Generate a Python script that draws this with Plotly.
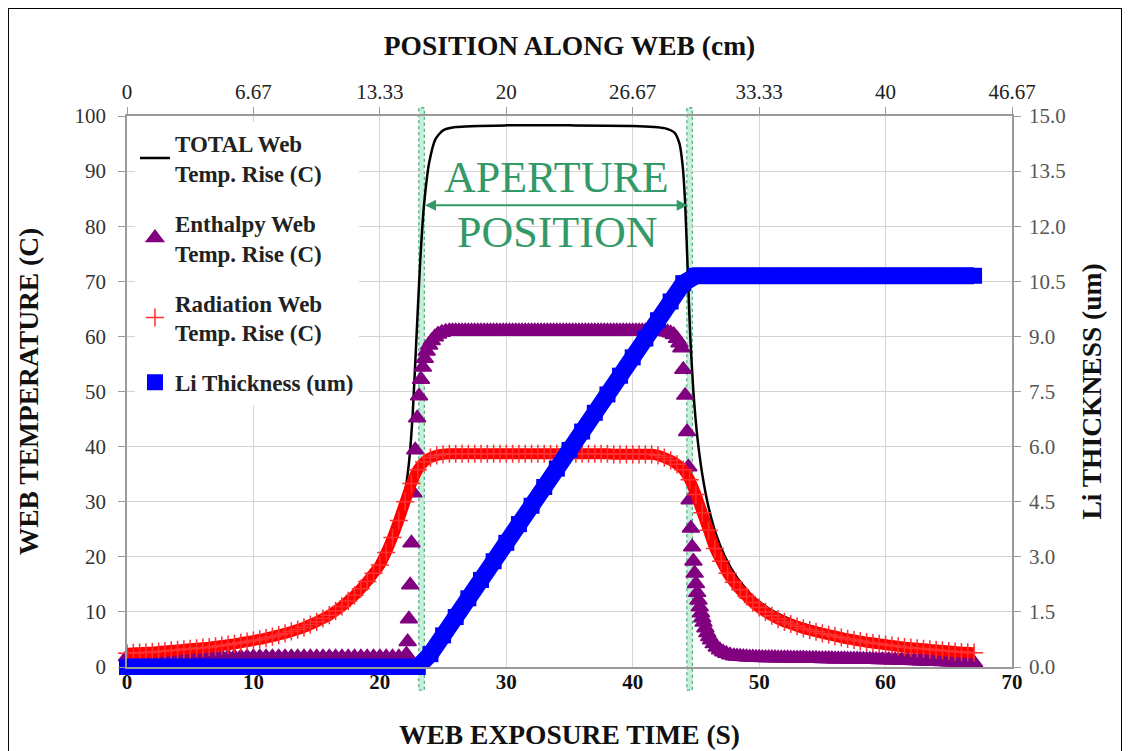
import plotly.graph_objects as go

# ---------------- data ----------------
TIME_TICKS = [0, 10, 20, 30, 40, 50, 60, 70]
TEMP_TICKS = [0, 10, 20, 30, 40, 50, 60, 70, 80, 90, 100]
THICK_TICKS = [0, 1.5, 3, 4.5, 6, 7.5, 9, 10.5, 12, 13.5, 15]
POS_TICKS = [0, 6.667, 13.333, 20, 26.667, 33.333, 40, 46.667]
POS_LABELS = ["0", "6.67", "13.33", "20", "26.67", "33.33", "40", "46.67"]

APERTURE_START = 23.3
APERTURE_END = 44.5

# TOTAL web temperature rise (line)
TOTAL_T = [0, 4, 8, 12, 15, 17, 18.5, 19.5, 20.5, 21.3,
           21.9, 22.3, 22.6, 22.9, 23.2, 23.5, 23.9, 24.4, 25.0, 26.0,
           30, 35, 40, 42.5, 43.3, 43.7, 43.95, 44.15, 44.35, 44.55,
           44.8, 45.1, 45.5, 46.0, 46.6, 47.3, 48.2, 49.5, 51, 53,
           56, 60, 64, 67]
TOTAL_Y = [2.9, 3.5, 4.4, 6.2, 8.6, 11.4, 14.6, 17.4, 21.3, 25.5,
           30.5, 37, 46, 60, 74, 84, 91.5, 95.8, 97.4, 98.0,
           98.3, 98.3, 98.2, 97.8, 97.0, 95.0, 91, 84, 72, 60,
           50, 42, 35, 29, 24, 20.0, 16.4, 12.8, 10.3, 8.2,
           6.3, 4.5, 3.5, 2.9]

# Enthalpy web temperature rise (triangles)
ENTH_T = [
    0, 0.5, 1, 1.5, 2, 2.5, 3, 3.5, 4, 4.5,
    5, 5.5, 6, 6.5, 7, 7.5, 8, 8.5, 9, 9.5,
    10, 10.5, 11, 11.5, 12, 12.5, 13, 13.5, 14, 14.5,
    15, 15.5, 16, 16.5, 17, 17.5, 18, 18.5, 19, 19.5,
    20, 20.5, 21, 21.5, 22,
    22.1, 22.2, 22.3, 22.4, 22.5, 22.65, 22.8, 22.95, 23.1, 23.25,
    23.4, 23.55, 23.7, 23.9, 24.1, 24.35, 24.6, 24.9, 25.2, 25.5,
    25.75, 26, 26.25, 26.5, 26.75, 27, 27.25, 27.5, 27.75, 28,
    28.25, 28.5, 28.75, 29, 29.25, 29.5, 29.75, 30, 30.25, 30.5,
    30.75, 31, 31.25, 31.5, 31.75, 32, 32.25, 32.5, 32.75, 33,
    33.25, 33.5, 33.75, 34, 34.25, 34.5, 34.75, 35, 35.25, 35.5,
    35.75, 36, 36.25, 36.5, 36.75, 37, 37.25, 37.5, 37.75, 38,
    38.25, 38.5, 38.75, 39, 39.25, 39.5, 39.75, 40, 40.25, 40.5,
    40.75, 41, 41.25, 41.5, 41.75, 42, 42.25, 42.5, 42.75, 43,
    43.25, 43.5, 43.7, 43.85, 44.0, 44.15, 44.3, 44.4, 44.5, 44.6,
    44.7, 44.8, 44.9, 45.0, 45.1, 45.2, 45.3, 45.4, 45.5, 45.6,
    45.75, 45.9, 46.05, 46.2, 46.4, 46.65, 46.9, 47.15, 47.4, 47.7,
    48.0,
    48.25, 48.5, 48.75, 49, 49.25, 49.5, 49.75, 50, 50.25, 50.5,
    50.75, 51, 51.25, 51.5, 51.75, 52, 52.25, 52.5, 52.75, 53,
    53.25, 53.5, 53.75, 54, 54.25, 54.5, 54.75, 55, 55.25, 55.5,
    55.75, 56, 56.25, 56.5, 56.75, 57, 57.25, 57.5, 57.75, 58,
    58.25, 58.5, 58.75, 59, 59.25, 59.5, 59.75, 60, 60.25, 60.5,
    60.75, 61, 61.25, 61.5, 61.75, 62, 62.25, 62.5, 62.75, 63,
    63.25, 63.5, 63.75, 64, 64.25, 64.5, 64.75, 65, 65.25, 65.5,
    65.75, 66, 66.25, 66.5, 66.75, 67,
]
ENTH_Y = [
    1.8, 1.8, 1.8, 1.8, 1.8, 1.8, 1.8, 1.8, 1.8, 1.8,
    1.8, 1.8, 1.8, 1.8, 1.8, 1.8, 1.8, 1.8, 1.8, 1.8,
    1.8, 1.8, 1.8, 1.8, 1.8, 1.8, 1.8, 1.8, 1.8, 1.8,
    1.8, 1.8, 1.8, 1.8, 1.8, 1.8, 1.8, 1.8, 1.8, 1.8,
    1.8, 1.8, 1.8, 1.8, 1.8,
    2.3, 4.6, 8.7, 14.9, 22.5, 31.6, 39.4, 45.2, 49.2, 52.2,
    54.4, 56.0, 57.3, 58.4, 59.2, 59.9, 60.4, 60.7, 60.9, 61.0,
    61.0, 61.0, 61.0, 61.0, 61.0, 61.0, 61.0, 61.0, 61.0, 61.0,
    61.0, 61.0, 61.0, 61.0, 61.0, 61.0, 61.0, 61.0, 61.0, 61.0,
    61.0, 61.0, 61.0, 61.0, 61.0, 61.0, 61.0, 61.0, 61.0, 61.0,
    61.0, 61.0, 61.0, 61.0, 61.0, 61.0, 61.0, 61.0, 61.0, 61.0,
    61.0, 61.0, 61.0, 61.0, 61.0, 61.0, 61.0, 61.0, 61.0, 61.0,
    61.0, 61.0, 61.0, 61.0, 61.0, 61.0, 61.0, 61.0, 61.0, 61.0,
    61.0, 61.0, 61.0, 61.0, 61.0, 61.0, 60.95, 60.9, 60.8, 60.6,
    60.3, 59.6, 58.8, 57.9, 54.0, 49.3, 42.7, 36.3, 30.3, 25.2,
    21.8, 19.2, 17.0, 15.1, 13.5, 12.1, 10.9, 9.8, 8.9, 8.1,
    7.1, 6.2, 5.5, 4.9, 4.2, 3.6, 3.1, 2.7, 2.45, 2.2,
    2.0,
    1.95, 1.9, 1.85, 1.8, 1.78, 1.76, 1.74, 1.72, 1.7, 1.69,
    1.68, 1.67, 1.66, 1.65, 1.64, 1.63, 1.62, 1.61, 1.6, 1.59,
    1.58, 1.57, 1.56, 1.55, 1.54, 1.53, 1.52, 1.51, 1.5, 1.49,
    1.48, 1.47, 1.46, 1.45, 1.44, 1.43, 1.42, 1.41, 1.4, 1.39,
    1.38, 1.37, 1.36, 1.35, 1.34, 1.33, 1.32, 1.31, 1.3, 1.28,
    1.26, 1.24, 1.22, 1.2, 1.18, 1.16, 1.14, 1.12, 1.1, 1.08,
    1.06, 1.04, 1.02, 1.0, 0.98, 0.96, 0.94, 0.92, 0.9, 0.88,
    0.86, 0.84, 0.82, 0.8, 0.78, 0.76,
]

# Radiation web temperature rise (+ markers)
RAD_T = [
    0, 0.5, 1, 1.5, 2, 2.5, 3, 3.5, 4, 4.5,
    5, 5.5, 6, 6.5, 7, 7.5, 8, 8.5, 9, 9.5,
    10, 10.5, 11, 11.5, 12, 12.5, 13, 13.5, 14, 14.5,
    15, 15.5, 16, 16.5, 17, 17.5, 18, 18.5, 19, 19.5,
    20, 20.5, 21, 21.5, 22, 22.5, 23, 23.5, 24, 24.5,
    25, 25.5, 26, 26.5, 27, 27.5, 28, 28.5, 29, 29.5,
    30, 30.5, 31, 31.5, 32, 32.5, 33, 33.5, 34, 34.5,
    35, 35.5, 36, 36.5, 37, 37.5, 38, 38.5, 39, 39.5,
    40, 40.5, 41, 41.5, 42, 42.5, 43, 43.5, 44, 44.5,
    45, 45.5, 46, 46.5, 47, 47.5, 48, 48.5, 49, 49.5,
    50, 50.5, 51, 51.5, 52, 52.5, 53, 53.5, 54, 54.5,
    55, 55.5, 56, 56.5, 57, 57.5, 58, 58.5, 59, 59.5,
    60, 60.5, 61, 61.5, 62, 62.5, 63, 63.5, 64, 64.5,
    65, 65.5, 66, 66.5, 67,
]
RAD_Y = [
    2.5, 2.55, 2.6, 2.65, 2.7, 2.8, 2.9, 3.0, 3.1, 3.2,
    3.3, 3.4, 3.5, 3.6, 3.75, 3.9, 4.05, 4.2, 4.4, 4.6,
    4.8, 5.0, 5.25, 5.5, 5.8, 6.1, 6.45, 6.8, 7.2, 7.7,
    8.2, 8.8, 9.4, 10.2, 11.0, 12.0, 13.0, 14.2, 15.5, 17.0,
    18.5, 20.8, 23.5, 26.6, 30.0, 33.3, 35.8, 37.2, 38.0, 38.4,
    38.6, 38.7, 38.7, 38.7, 38.7, 38.7, 38.7, 38.7, 38.7, 38.7,
    38.7, 38.7, 38.7, 38.7, 38.7, 38.7, 38.7, 38.7, 38.7, 38.7,
    38.7, 38.7, 38.7, 38.7, 38.7, 38.7, 38.7, 38.6, 38.6, 38.6,
    38.6, 38.6, 38.6, 38.6, 38.4, 38.0, 37.5, 36.8, 35.8, 34.0,
    31.3, 28.0, 24.8, 21.5, 19.2, 17.0, 15.4, 14.0, 12.8, 11.7,
    10.8, 10.0, 9.3, 8.7, 8.2, 7.8, 7.4, 7.0, 6.7, 6.4,
    6.1, 5.85, 5.6, 5.35, 5.1, 4.9, 4.7, 4.5, 4.35, 4.2,
    4.05, 3.9, 3.75, 3.6, 3.5, 3.4, 3.3, 3.2, 3.1, 3.0,
    2.9, 2.8, 2.7, 2.65, 2.6,
]

# Li thickness (squares, right axis, um)
LI_T = [
    0, 1, 2, 3, 4, 5, 6, 7, 8, 9,
    10, 11, 12, 13, 14, 15, 16, 17, 18, 19,
    20, 21, 22, 23, 24, 25, 26, 27, 28, 29,
    30, 31, 32, 33, 34, 35, 36, 37, 38, 39,
    40, 41, 42, 43, 44, 45, 46, 47, 48, 49,
    50, 51, 52, 53, 54, 55, 56, 57, 58, 59,
    60, 61, 62, 63, 64, 65, 66, 67,
]
LI_Y = [
    0, 0, 0, 0, 0, 0, 0, 0, 0, 0,
    0, 0, 0, 0, 0, 0, 0, 0, 0, 0,
    0, 0, 0, 0, 0.35, 0.86, 1.36, 1.87, 2.37, 2.88,
    3.38, 3.89, 4.39, 4.90, 5.40, 5.91, 6.41, 6.92, 7.42, 7.93,
    8.43, 8.94, 9.44, 9.95, 10.45, 10.65, 10.65, 10.65, 10.65, 10.65,
    10.65, 10.65, 10.65, 10.65, 10.65, 10.65, 10.65, 10.65, 10.65, 10.65,
    10.65, 10.65, 10.65, 10.65, 10.65, 10.65, 10.65, 10.65,
]

# ---------------- styles ----------------
SERIF = "Liberation Serif"
BLACK = "#000000"
PURPLE = "#800080"
RED = "#ff0000"
BLUE = "#0000ff"
GREEN = "#339966"
GRID = "#d4d4d4"
AXIS = "#9a9a9a"
TITLE_SIZE = 27.5

fig = go.Figure()

fig.add_trace(go.Scatter(
    x=TOTAL_T, y=TOTAL_Y, mode="lines", name="TOTAL Web<br>Temp. Rise (C)",
    line=dict(color=BLACK, width=2.5, shape="spline", smoothing=0.6),
    legendgroup="total",
))
fig.add_trace(go.Scatter(
    x=ENTH_T, y=ENTH_Y, mode="markers", name="Enthalpy Web<br>Temp. Rise (C)",
    marker=dict(symbol="triangle-up", size=15, color=PURPLE,
                line=dict(color=PURPLE, width=1.5)),
    cliponaxis=False, legendgroup="enth",
))
fig.add_trace(go.Scatter(
    x=RAD_T, y=RAD_Y, mode="lines", showlegend=False,
    line=dict(color=RED, width=11, shape="spline", smoothing=0.5),
    legendgroup="rad", hoverinfo="skip",
))
fig.add_trace(go.Scatter(
    x=RAD_T, y=RAD_Y, mode="markers", name="Radiation Web<br>Temp. Rise (C)",
    marker=dict(symbol="cross-thin", size=13, color=RED,
                line=dict(color="#ff3030", width=1.5)),
    cliponaxis=False, legendgroup="rad",
))
fig.add_trace(go.Scatter(
    x=LI_T, y=LI_Y, mode="lines", yaxis="y2", showlegend=False,
    line=dict(color=BLUE, width=17),
    legendgroup="li", hoverinfo="skip",
))
fig.add_trace(go.Scatter(
    x=LI_T, y=LI_Y, mode="markers", yaxis="y2", name="Li Thickness (um)",
    marker=dict(symbol="square", size=16, color=BLUE),
    cliponaxis=False, legendgroup="li",
))
# the web-position scale (cm) shares the plot: registers the top axis
fig.add_trace(go.Scatter(
    x=POS_TICKS, y=[0] * len(POS_TICKS), xaxis="x2", mode="none",
    showlegend=False, hoverinfo="skip",
))

# aperture position markers
for xc in (APERTURE_START, APERTURE_END):
    fig.add_shape(type="rect", xref="x", yref="paper",
                  x0=xc - 0.22, x1=xc + 0.22, y0=-0.042, y1=1.015,
                  fillcolor="rgba(160,228,192,0.6)",
                  line=dict(color="#4fae82", width=1.3, dash="dot"),
                  layer="between")

fig.add_annotation(x=APERTURE_END - 0.15, y=83.8, ax=APERTURE_START + 0.15, ay=83.8,
                   xref="x", yref="y", axref="x", ayref="y", text="",
                   showarrow=True, arrowhead=2, arrowside="end+start",
                   arrowsize=1.1, arrowwidth=2, arrowcolor=GREEN)
fig.add_annotation(x=(APERTURE_START + APERTURE_END) / 2 + 0.1, y=88.8, text="APERTURE",
                   showarrow=False, xref="x", yref="y",
                   font=dict(family=SERIF, size=44, color=GREEN))
fig.add_annotation(x=(APERTURE_START + APERTURE_END) / 2 + 0.1, y=78.8, text="POSITION",
                   showarrow=False, xref="x", yref="y",
                   font=dict(family=SERIF, size=44, color=GREEN))

# outer frame
fig.add_shape(type="rect", xref="paper", yref="paper",
              x0=-0.1345, x1=1.1243, y0=-0.25, y1=1.196,
              line=dict(color="#000000", width=2), layer="above")

fig.update_layout(
    width=1130, height=751,
    margin=dict(l=119, r=126, t=108, b=92),
    paper_bgcolor="white", plot_bgcolor="white",
    font=dict(family=SERIF, color="#222222"),
    showlegend=True,
    legend=dict(x=0.009, y=0.99, xanchor="left", yanchor="top",
                bgcolor="white", borderwidth=0,
                font=dict(family=SERIF, size=23, color="#222222", weight="bold"),
                traceorder="grouped", tracegroupgap=17, itemwidth=30),
    xaxis=dict(range=[0, 70], tickvals=TIME_TICKS, showgrid=True, gridcolor=GRID,
               showline=True, linecolor=AXIS, linewidth=1.5, zeroline=False,
               ticks="", ticklabelstandoff=-5,
               tickfont=dict(family=SERIF, size=21, color="#111111", weight="bold"),
               title=dict(text="WEB EXPOSURE TIME (S)", standoff=32,
                          font=dict(family=SERIF, size=TITLE_SIZE, color="#111111", weight="bold"))),
    xaxis2=dict(range=[0, 46.667], overlaying="x", side="top", anchor="y",
                tickvals=POS_TICKS, ticktext=POS_LABELS, showgrid=False,
                showline=True, linecolor=AXIS, linewidth=1.5, zeroline=False,
                ticks="outside", ticklen=7, tickcolor=AXIS,
                tickfont=dict(family=SERIF, size=21, color="#222222"),
                title=dict(text="POSITION ALONG WEB (cm)", standoff=16,
                           font=dict(family=SERIF, size=TITLE_SIZE, color="#111111", weight="bold"))),
    yaxis=dict(range=[0, 100], tickvals=TEMP_TICKS, showgrid=True, gridcolor=GRID,
               showline=True, linecolor=AXIS, linewidth=1.5, zeroline=False,
               ticks="outside", ticklen=7, tickcolor=AXIS, ticklabelstandoff=8,
               tickfont=dict(family=SERIF, size=21, color="#333333"),
               title=dict(text="WEB TEMPERATURE (C)", standoff=28,
                          font=dict(family=SERIF, size=TITLE_SIZE, color="#111111", weight="bold"))),
    yaxis2=dict(range=[0, 15], tickvals=THICK_TICKS, tickformat=".1f",
                overlaying="y", side="right", anchor="x", showgrid=False,
                showline=True, linecolor=AXIS, linewidth=1.5, zeroline=False,
                ticks="outside", ticklen=7, tickcolor=AXIS, ticklabelstandoff=4,
                tickfont=dict(family=SERIF, size=21, color="#555555"),
                title=dict(text="Li THICKNESS (um)", standoff=17,
                           font=dict(family=SERIF, size=TITLE_SIZE, color="#111111", weight="bold"))),
)

fig.write_html("out.html")
